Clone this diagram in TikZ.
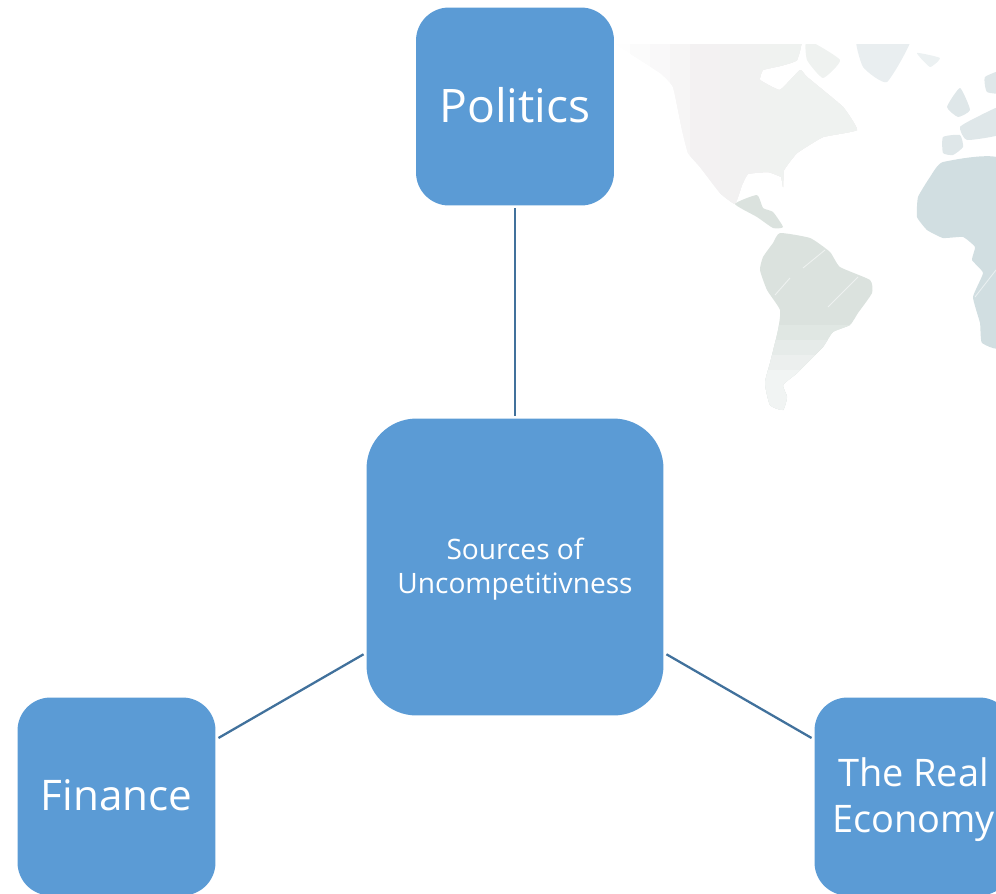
\documentclass[tikz,border=0pt]{standalone}
\usepackage{fontspec}
\setmainfont{Open Sans}
\definecolor{boxblue}{HTML}{5B9BD5}
\definecolor{lineblue}{HTML}{41719C}
\definecolor{mapsouth}{HTML}{DBE2DE}
\definecolor{maptail}{HTML}{F1F4F3}
\definecolor{mapeast}{HTML}{D1DEE1}
\definecolor{mapeurope}{HTML}{DFE7E9}
\definecolor{mapnorth}{HTML}{F3F1F2}
\definecolor{mapnortheast}{HTML}{EFF2F0}
\tikzset{
  smallbox/.style={fill=boxblue, text=white, rounded corners=0.66cm, minimum size=3.96cm, inner sep=0pt, outer sep=1.7pt, align=center},
  bigbox/.style={smallbox, rounded corners=1cm, minimum size=5.94cm},
  link/.style={draw=lineblue, line width=1.3pt},
  streak/.style={draw=white, line width=0.5pt, opacity=0.55}
}
\begin{document}
\begin{tikzpicture}[x=0.02cm,y=-0.02cm]
\useasboundingbox (0,0) rectangle (996,893);
% map behind the boxes
\begin{scope}
\clip (600,44) rectangle (996,420);
\begin{scope} %north america, fading out to the west
\clip plot[smooth cycle, tension=0.2] coordinates {(610,30) (617,45) (660,73) (673,87) (682,130) (688,153) (700,167) (720,193) (735,204) (742,185) (748,174) (768,172) (781,177) (783,187) (784,170) (797,153) (823,137) (857,130) (843,107) (807,77) (800,70) (780,90) (760,80) (763,70) (780,66) (797,60) (797,30)};
\foreach \xs/\amt in {610/10,630/30,650/50,670/75,690/100} \fill[mapnorth!\amt!white] (\xs,20) rectangle (1000,240);
\foreach \xs/\amt in {720/25,740/50,760/75,780/100} \fill[mapnortheast!\amt!mapnorth] (\xs,20) rectangle (1000,240);
\end{scope}
\fill[mapsouth] plot[smooth cycle, tension=0.3] coordinates {(735,204) (757,195) (763,208) (773,212) (783,227) (773,228) (757,217)};
\begin{scope} %south america, paler towards the tip
\clip plot[smooth cycle, tension=0.3] coordinates {(780,233) (810,238) (830,252) (840,267) (870,280) (872,293) (858,313) (850,325) (833,332) (823,347) (810,360) (797,373) (783,385) (787,397) (783,410) (770,405) (765,383) (770,363) (778,330) (780,310) (767,290) (760,270) (763,257) (773,243)};
\fill[mapsouth] (750,225) rectangle (880,420);
\foreach \ys/\amt in {325/25,340/50,355/75,370/100} \fill[maptail!\amt!mapsouth] (750,\ys) rectangle (880,420);
\end{scope}
\fill[mapeast] plot[smooth cycle, tension=0.25] coordinates {(1005,162) (943,162) (930,177) (918,197) (917,217) (927,230) (943,238) (963,237) (975,247) (972,260) (983,273) (973,297) (980,323) (982,343) (1005,343)};
\fill[mapeurope] plot[smooth cycle, tension=0.3] coordinates {(943,137) (960,135) (963,147) (953,155) (943,153)};
\fill[mapeurope] plot[smooth cycle, tension=0.3] coordinates {(960,127) (977,117) (1005,105) (1005,133) (967,140)};
\fill[mapeurope] plot[smooth cycle, tension=0.3] coordinates {(960,88) (970,110) (958,117) (947,107)};
\fill[mapeurope] plot[smooth cycle, tension=0.3] coordinates {(985,77) (1005,70) (1005,93) (987,92)};
\fill[mapeurope!60!white] plot[smooth cycle, tension=0.3] coordinates {(917,53) (940,58) (930,67)};
\fill[mapeurope!70!white] plot[smooth cycle, tension=0.3] coordinates {(857,35) (912,35) (887,82) (863,67)};
\fill[mapnortheast] plot[smooth cycle, tension=0.3] coordinates {(807,40) (840,60) (823,78) (807,60)};
\draw[streak] (803,268) -- (825,250);
\draw[streak] (775,295) -- (790,278);
\draw[streak] (828,307) -- (858,277);
\draw[streak] (975,297) -- (996,270);
\end{scope}

\node[bigbox, font=\fontsize{16}{19.4}\selectfont] (center) at (515,567) {\rule{0pt}{14.5pt}Sources of\\Uncompetitivness};
\node[smallbox, font=\fontsize{26.3}{31}\selectfont] (politics) at (515,106.5) {Politics\rule[-1.4pt]{0pt}{1pt}};
\node[smallbox, font=\fontsize{24}{28}\selectfont] (finance) at (116.5,796.5) {Finance\rule[-1.4pt]{0pt}{1pt}};
\node[smallbox, font=\fontsize{21.6}{26.5}\selectfont] (economy) at (913.5,796.5) {\rule{0pt}{19.8pt}The Real\\Economy};

\draw[link] (center) -- (politics);
\draw[link] (center) -- (finance);
\draw[link] (center) -- (economy);
\end{tikzpicture}
\end{document}
